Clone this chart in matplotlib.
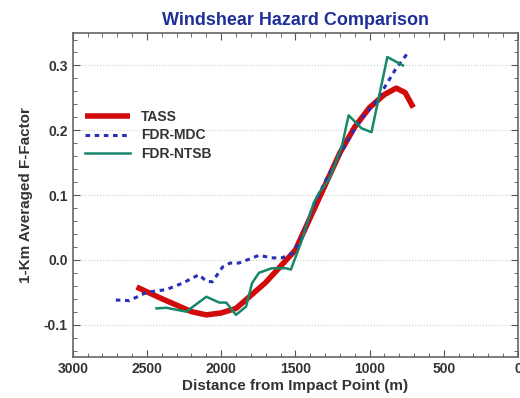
import matplotlib
matplotlib.use("Agg")
import matplotlib.pyplot as plt
from matplotlib.ticker import MultipleLocator

# TASS model
tass_x = [2570, 2400, 2200, 2100, 2000, 1900, 1800, 1700, 1600, 1500,
          1400, 1300, 1200, 1100, 1000, 900, 820, 760, 705]
tass_y = [-0.042, -0.060, -0.080, -0.085, -0.082, -0.075, -0.055, -0.035,
          -0.010, 0.015, 0.065, 0.115, 0.165, 0.205, 0.235, 0.255, 0.265,
          0.258, 0.235]

# FDR-MDC
mdc_x = [2710, 2620, 2500, 2370, 2260, 2150, 2100, 2060, 1990, 1940, 1880,
         1800, 1745, 1660, 1590, 1520, 1455, 1390, 1295, 1210, 1120, 1040,
         960, 870, 825, 750]
mdc_y = [-0.062, -0.063, -0.050, -0.046, -0.036, -0.023, -0.033, -0.034,
         -0.011, -0.005, -0.005, 0.002, 0.007, 0.003, 0.003, 0.010, 0.035,
         0.077, 0.123, 0.158, 0.195, 0.222, 0.243, 0.277, 0.294, 0.317]

# FDR-NTSB
ntsb_x = [2436, 2370, 2235, 2100, 2013, 1966, 1900, 1832, 1792, 1745, 1658,
          1564, 1530, 1463, 1376, 1342, 1275, 1188, 1141, 1054, 987, 880, 775]
ntsb_y = [-0.075, -0.074, -0.080, -0.057, -0.066, -0.066, -0.085, -0.072,
          -0.036, -0.020, -0.013, -0.013, -0.015, 0.026, 0.088, 0.103, 0.123,
          0.174, 0.223, 0.203, 0.197, 0.313, 0.300]

plt.rcParams['font.family'] = ['Liberation Sans', 'DejaVu Sans']
plt.rcParams['font.weight'] = 'bold'

fig = plt.figure(figsize=(5.2, 3.98), dpi=100)
ax = fig.add_axes([0.140, 0.103, 0.856, 0.814])

ax.plot(tass_x, tass_y, color='#d10a0a', lw=4, solid_capstyle='butt', label='TASS')
ax.plot(mdc_x, mdc_y, color='#2a2fb8', lw=2.2, ls=(0, (1.5, 1.5)), label='FDR-MDC')
ax.plot(ntsb_x, ntsb_y, color='#17876a', lw=1.8, label='FDR-NTSB')

ax.set_xlim(3000, 0)
ax.set_ylim(-0.15, 0.35)
ax.xaxis.set_major_locator(MultipleLocator(500))
ax.xaxis.set_minor_locator(MultipleLocator(100))
ax.yaxis.set_major_locator(MultipleLocator(0.1))
ax.yaxis.set_minor_locator(MultipleLocator(0.02))
ax.set_yticks([-0.1, 0.0, 0.1, 0.2, 0.3])
ax.set_yticklabels(['-0.1', '0.0', '0.1', '0.2', '0.3'])

ax.tick_params(which='both', direction='in', top=True, right=True,
               colors='#555555', labelcolor='#333333', labelsize=10)
ax.tick_params(which='major', length=5)
ax.tick_params(which='minor', length=3)
for sp in ax.spines.values():
    sp.set_color('#666666')
    sp.set_linewidth(1.2)

ax.grid(axis='y', which='major', color='#cccccc', ls=':', lw=0.8)

ax.set_title('Windshear Hazard Comparison', color='#1f2f9a',
             fontsize=13, fontweight='bold', pad=6)
ax.set_xlabel('Distance from Impact Point (m)', fontsize=11,
              fontweight='bold', color='#333333', labelpad=2)
ax.set_ylabel('1-Km Averaged F-Factor', fontsize=11,
              fontweight='bold', color='#333333', labelpad=8)

leg = ax.legend(loc='upper left', bbox_to_anchor=(0.0, 0.8), frameon=False,
                fontsize=10, handlelength=3.2, labelspacing=0.3)
for t in leg.get_texts():
    t.set_color('#333333')

fig.savefig('out.png', dpi=100)
